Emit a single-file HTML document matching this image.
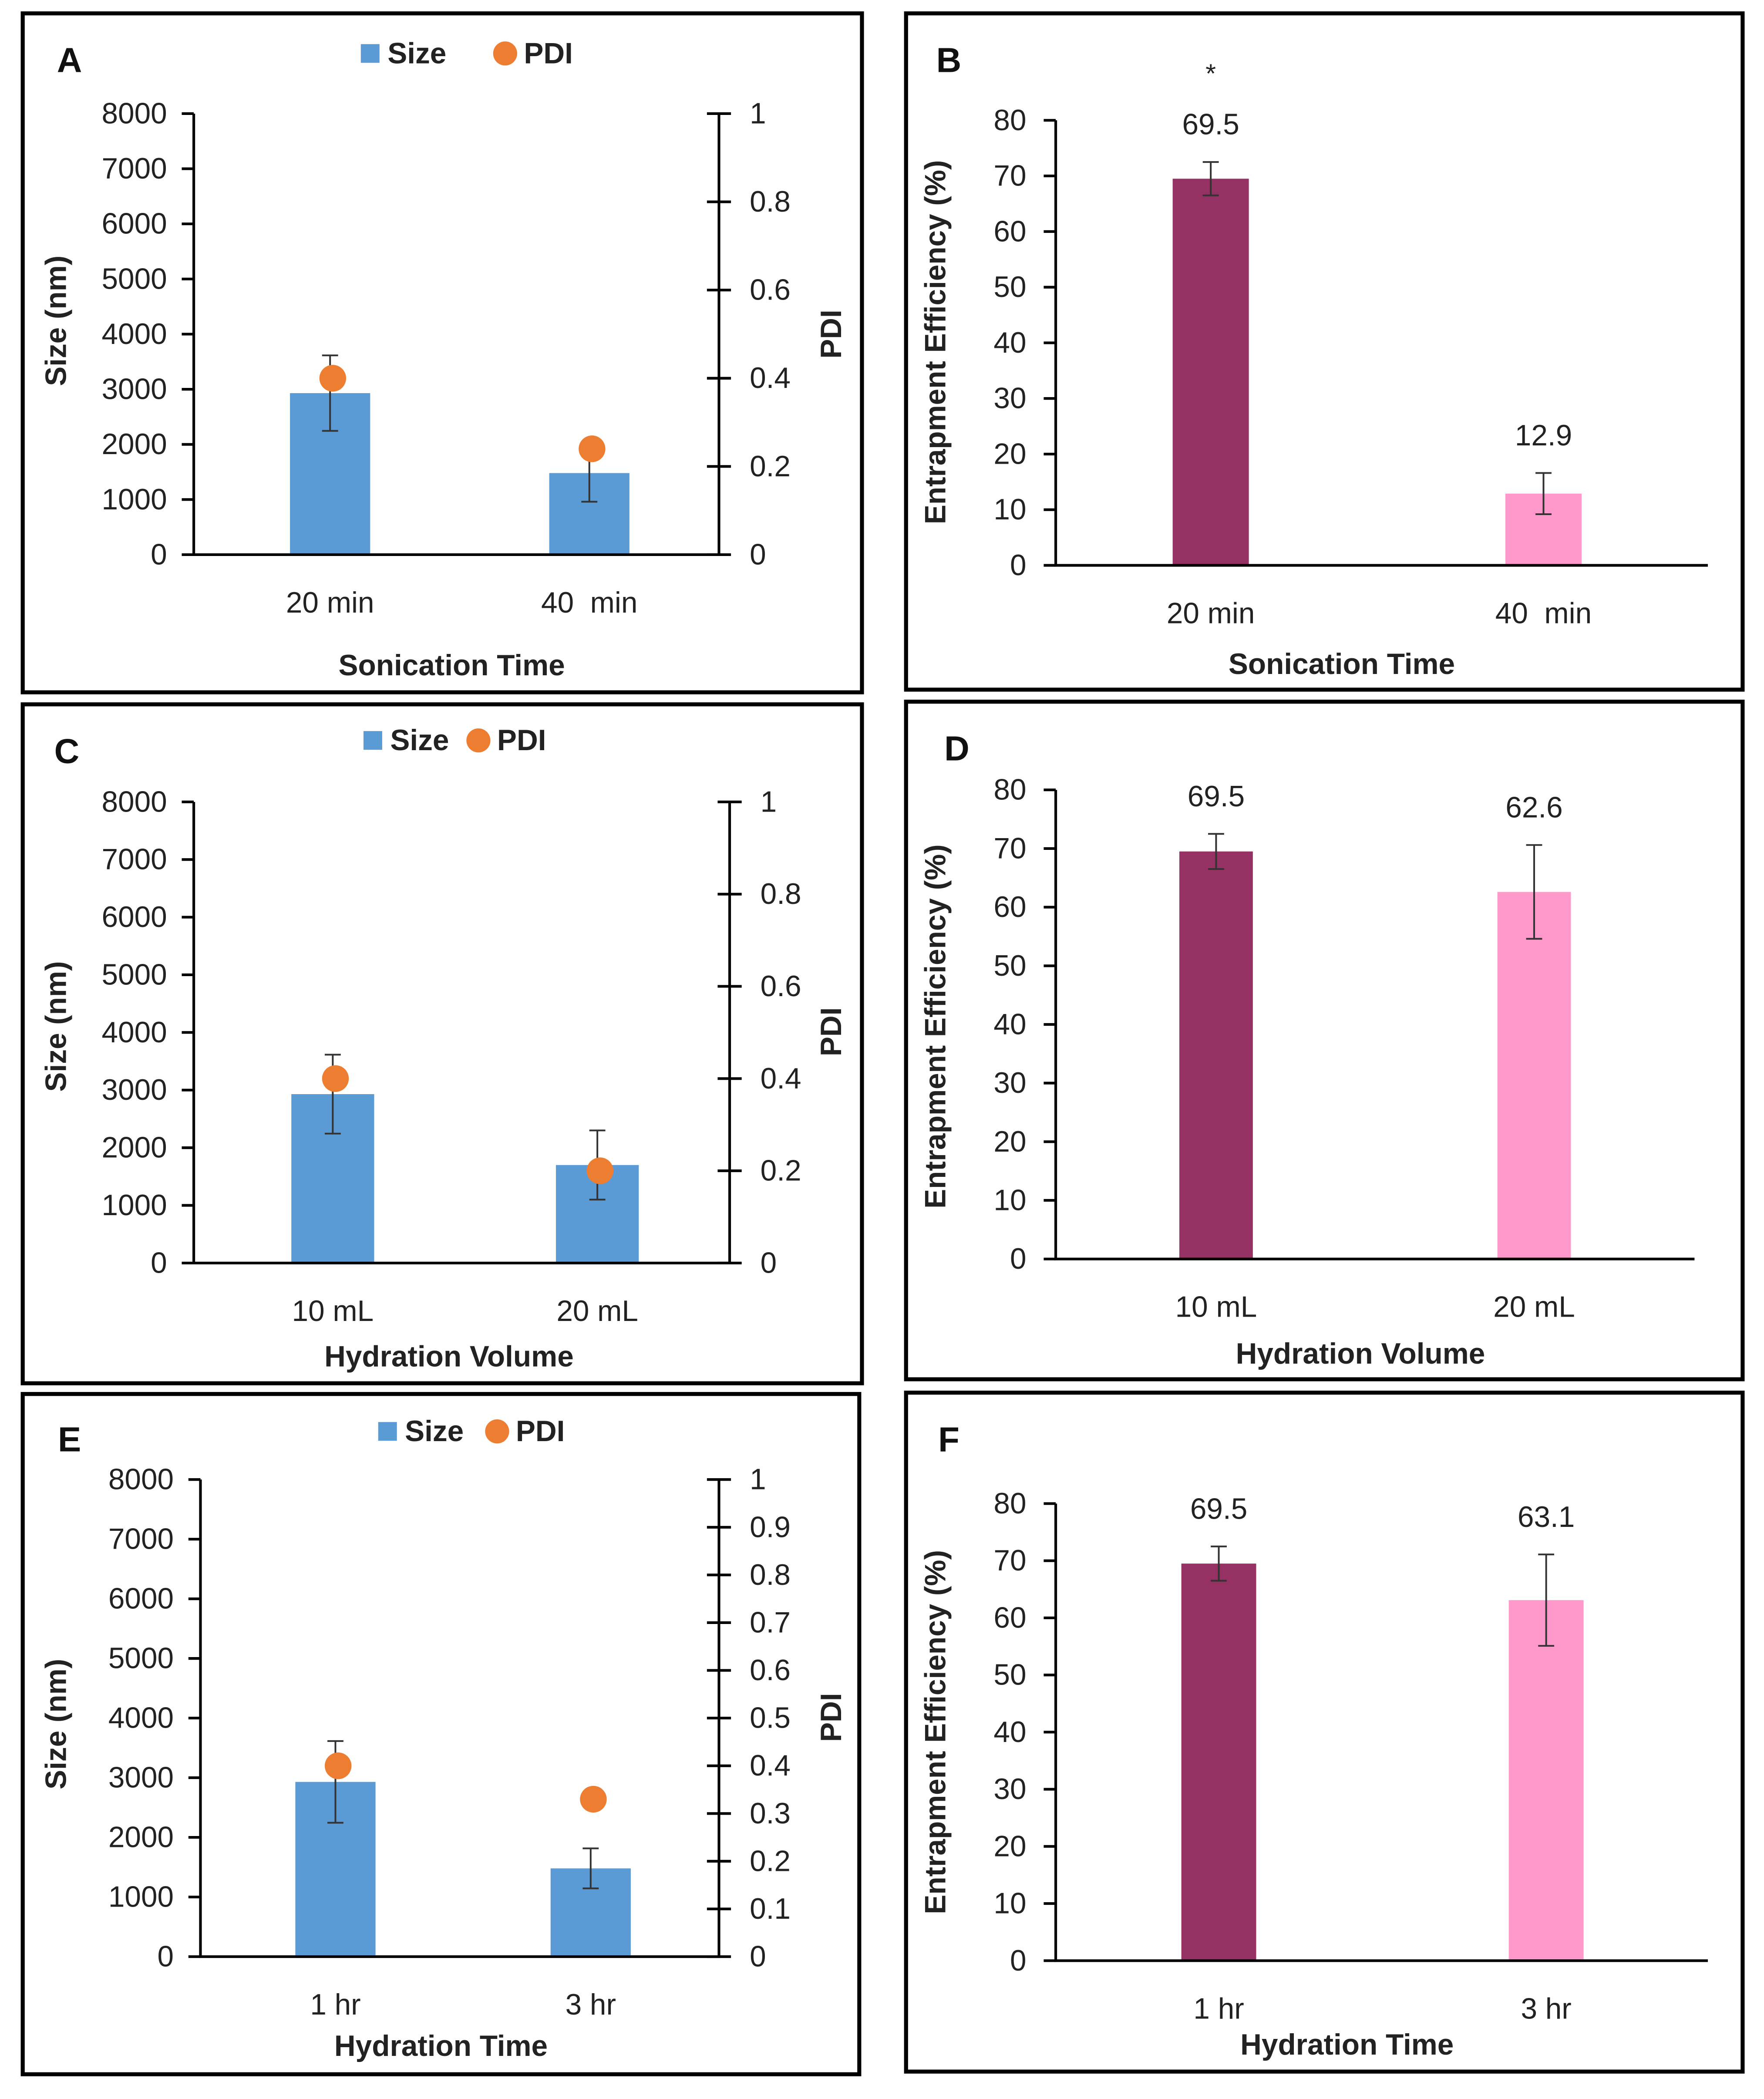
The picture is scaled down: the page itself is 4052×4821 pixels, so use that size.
<!DOCTYPE html>
<html><head><meta charset="utf-8"><style>
html,body{margin:0;padding:0;background:#fff}
svg{display:block}
text{font-family:"Liberation Sans",sans-serif;white-space:pre}
</style></head><body>
<svg id="fig" width="4052" height="4821" viewBox="0 0 1320 1570.5" xmlns="http://www.w3.org/2000/svg"></svg>
<script>
// ---- data ----
const sizeCatsA = ["20 min", "40  min"];
const sizeValsA = [2930, 1480];
const sizeErrA = [685, 520];
const pdiValsA = [0.40, 0.24];
const pdiTicksA = [0, 0.2, 0.4, 0.6, 0.8, 1];

const sizeCatsC = ["10 mL", "20 mL"];
const sizeValsC = [2930, 1700];
const sizeErrC = [685, 600];
const pdiValsC = [0.40, 0.20];
const pdiTicksC = [0, 0.2, 0.4, 0.6, 0.8, 1];

const sizeCatsE = ["1 hr", "3 hr"];
const sizeValsE = [2930, 1480];
const sizeErrE = [685, 335];
const pdiValsE = [0.40, 0.33];
const pdiTicksE = [0, 0.1, 0.2, 0.3, 0.4, 0.5, 0.6, 0.7, 0.8, 0.9, 1];

const sizeTicks = [0, 1000, 2000, 3000, 4000, 5000, 6000, 7000, 8000];
const eeTicks = [0, 10, 20, 30, 40, 50, 60, 70, 80];

const eeCatsB = ["20 min", "40  min"];
const eeValsB = [69.5, 12.9];
const eeErrB = [3, 3.7];
const eeCatsD = ["10 mL", "20 mL"];
const eeValsD = [69.5, 62.6];
const eeErrD = [3, 8];
const eeCatsF = ["1 hr", "3 hr"];
const eeValsF = [69.5, 63.1];
const eeErrF = [3, 8];

const svg = document.getElementById('fig');
const NS = "http://www.w3.org/2000/svg";
function mk(tag, attrs, parent, txt){
  const e = document.createElementNS(NS, tag);
  for (const k in attrs) e.setAttribute(k, attrs[k]);
  if (txt !== undefined) e.textContent = txt;
  (parent || svg).appendChild(e);
  return e;
}
function label(txt, x, y, opts, parent){
  const o = Object.assign({x:x, y:y, 'font-size':22, fill:'#222', 'text-anchor':'middle', 'dominant-baseline':'central'}, opts||{});
  return mk('text', o, parent, txt);
}

function sizePanel(p){
  const g = mk('g', {});
  
  
  const box = mk('rect', {x:p.box[0], y:p.box[1], width:p.box[2], height:p.box[3], fill:'none', stroke:'#000', 'stroke-width':3}, g);
  
  
  const L = label(p.id, p.letter[0], p.letter[1], {'font-size':26, 'font-weight':'bold', fill:'#111'}, g);
  
  
  const ys = v => p.y0 - (v / 8000) * (p.y0 - p.y1);
  const yp = v => p.y0 - v * (p.y0 - p.y1);
  p.vals.forEach((v, i) => {
    const cx = p.cx[i];
    const b = mk('rect', {x:cx - p.bw/2, y:ys(v), width:p.bw, height:p.y0 - ys(v), fill:'#5B9BD5'}, g);
    
    
    const hi = ys(v + p.err[i]), lo = ys(v - p.err[i]);
    const e = mk('path', {d:`M${cx},${hi}V${lo}M${cx-6},${hi}H${cx+6}M${cx-6},${lo}H${cx+6}`, stroke:'#333', 'stroke-width':1.3, fill:'none'}, g);
    
    
    const pt = mk('circle', {cx:cx + 2, cy:yp(p.pdi[i]), r:10, fill:'#ED7D31'}, g);
    
    
    const cl = label(p.cats[i], cx, p.catY, {}, g);
    
    
  });
  const ax = mk('path', {d:`M${p.lx},${p.y1}V${p.y0}H${p.rx}V${p.y1}`, stroke:'#000', 'stroke-width':2, fill:'none'}, g);
  
  
  sizeTicks.forEach(t => {
    const y = ys(t);
    mk('line', {x1:p.lx - 9, x2:p.lx, y1:y, y2:y, stroke:'#000', 'stroke-width':2}, g);
    const tl = label(String(t), p.lx - 20, y, {'text-anchor':'end'}, g);
    
    
  });
  p.pTicks.forEach(t => {
    const y = yp(t);
    mk('line', {x1:p.rx - 9, x2:p.rx + 9, y1:y, y2:y, stroke:'#000', 'stroke-width':2}, g);
    const tl = label(String(t), p.rx + 23, y, {'text-anchor':'start'}, g);
    
    
  });
  const yt = label('Size (nm)', p.ytX, p.ytY, {'font-weight':'bold', transform:`rotate(-90 ${p.ytX} ${p.ytY})`}, g);
  
  
  const pt2 = label('PDI', p.ptX, p.ptY, {'font-weight':'bold', transform:`rotate(-90 ${p.ptX} ${p.ptY})`}, g);
  
  
  const xt = label(p.xTitle, p.xtX, p.xtY, {'font-weight':'bold'}, g);
  
  
  const lg = mk('g', {}, g);
  
  
  mk('rect', {x:p.leg[0], y:p.leg[1] - 7, width:14, height:14, fill:'#5B9BD5'}, lg);
  label('Size', p.leg[0] + 20, p.leg[1], {'text-anchor':'start', 'font-weight':'bold'}, lg);
  mk('circle', {cx:p.leg[2], cy:p.leg[1], r:9, fill:'#ED7D31'}, lg);
  label('PDI', p.leg[2] + 14, p.leg[1], {'text-anchor':'start', 'font-weight':'bold'}, lg);
}

function eePanel(p){
  const g = mk('g', {});
  
  
  const box = mk('rect', {x:p.box[0], y:p.box[1], width:p.box[2], height:p.box[3], fill:'none', stroke:'#000', 'stroke-width':3}, g);
  
  
  const L = label(p.id, p.letter[0], p.letter[1], {'font-size':26, 'font-weight':'bold', fill:'#111'}, g);
  
  
  const ys = v => p.y0 - (v / 80) * (p.y0 - p.y1);
  const colors = ['#953163', '#FF99CC'];
  p.vals.forEach((v, i) => {
    const cx = p.cx[i];
    const b = mk('rect', {x:cx - p.bw/2, y:ys(v), width:p.bw, height:p.y0 - ys(v), fill:colors[i]}, g);
    
    
    const hi = ys(v + p.err[i]), lo = ys(v - p.err[i]);
    const e = mk('path', {d:`M${cx},${hi}V${lo}M${cx-6},${hi}H${cx+6}M${cx-6},${lo}H${cx+6}`, stroke:'#333', 'stroke-width':1.3, fill:'none'}, g);
    
    
    const vl = label(String(v), cx, hi - 28, {}, g);
    
    
    const cl = label(p.cats[i], cx, p.catY, {}, g);
    
    
  });
  const ax = mk('path', {d:`M${p.lx},${p.y1}V${p.y0}H${p.rx}`, stroke:'#000', 'stroke-width':2, fill:'none'}, g);
  
  
  eeTicks.forEach(t => {
    const y = ys(t);
    mk('line', {x1:p.lx - 9, x2:p.lx, y1:y, y2:y, stroke:'#000', 'stroke-width':2}, g);
    const tl = label(String(t), p.lx - 22, y, {'text-anchor':'end'}, g);
    
    
  });
  const yt = label('Entrapment Efficiency (%)', p.ytX, p.ytY, {'font-weight':'bold', transform:`rotate(-90 ${p.ytX} ${p.ytY})`}, g);
  
  
  const xt = label(p.xTitle, p.xtX, p.xtY, {'font-weight':'bold'}, g);
  
  
  if (p.star) {
    const s = label('*', p.cx[0], p.star, {'font-size':20}, g);
    
    
  }
}

sizePanel({id:'A', box:[17,10,628,508], letter:[52,45], y0:415, y1:85, lx:145, rx:538, cx:[247,441], bw:60,
  vals:sizeValsA, err:sizeErrA, pdi:pdiValsA, pTicks:pdiTicksA, cats:sizeCatsA, catY:451,
  ytX:42, ytY:240, ptX:622, ptY:250, xTitle:'Sonication Time', xtX:338, xtY:498, leg:[270,40,378]});
sizePanel({id:'C', box:[17,527,628,508], letter:[50,562], y0:945, y1:600, lx:145, rx:546, cx:[249,447], bw:62,
  vals:sizeValsC, err:sizeErrC, pdi:pdiValsC, pTicks:pdiTicksC, cats:sizeCatsC, catY:981,
  ytX:42, ytY:768, ptX:622, ptY:772, xTitle:'Hydration Volume', xtX:336, xtY:1015, leg:[272,554,358]});
sizePanel({id:'E', box:[17,1043,626,509], letter:[52,1077], y0:1464, y1:1107, lx:150, rx:538, cx:[251,442], bw:60,
  vals:sizeValsE, err:sizeErrE, pdi:pdiValsE, pTicks:pdiTicksE, cats:sizeCatsE, catY:1500,
  ytX:42, ytY:1290, ptX:622, ptY:1285, xTitle:'Hydration Time', xtX:330, xtY:1531, leg:[283,1071,372]});

eePanel({id:'B', box:[678,10,626,506], letter:[710,45], y0:423, y1:90, lx:790, rx:1278, cx:[906,1155], bw:57,
  vals:eeValsB, err:eeErrB, cats:eeCatsB, catY:459, ytX:700, ytY:256, xTitle:'Sonication Time', xtX:1004, xtY:497, star:55});
eePanel({id:'D', box:[678,525,626,507], letter:[716,560], y0:942, y1:591, lx:790, rx:1268, cx:[910,1148], bw:55,
  vals:eeValsD, err:eeErrD, cats:eeCatsD, catY:978, ytX:700, ytY:768, xTitle:'Hydration Volume', xtX:1018, xtY:1013});
eePanel({id:'F', box:[678,1042,626,508], letter:[710,1077], y0:1467, y1:1125, lx:790, rx:1278, cx:[912,1157], bw:56,
  vals:eeValsF, err:eeErrF, cats:eeCatsF, catY:1503, ytX:700, ytY:1296, xTitle:'Hydration Time', xtX:1008, xtY:1530});
</script>
</body></html>
